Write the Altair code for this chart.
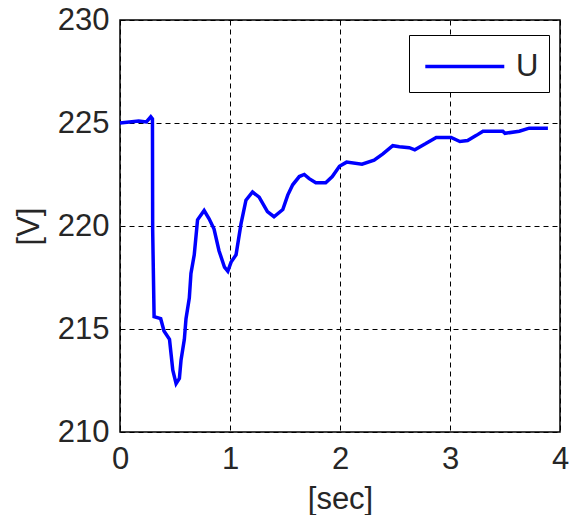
import altair as alt
import pandas as pd

t_sec = [0.0, 0.17, 0.24, 0.28, 0.295, 0.297, 0.31, 0.37, 0.40, 0.45, 0.465, 0.48, 0.51, 0.54, 0.555,
         0.585, 0.60, 0.63, 0.645, 0.675, 0.705, 0.765, 0.81, 0.855, 0.9, 0.95, 0.98, 1.01, 1.055,
         1.1, 1.145, 1.205, 1.265, 1.34, 1.40, 1.48, 1.525, 1.57, 1.63, 1.675, 1.72, 1.78, 1.87,
         1.93, 1.995, 2.06, 2.2, 2.31, 2.39, 2.48, 2.54, 2.63, 2.68, 2.78, 2.875, 3.01, 3.09, 3.16,
         3.24, 3.3, 3.48, 3.5, 3.63, 3.72, 3.89]
u_volt = [225.0, 225.1, 225.05, 225.3, 225.2, 219.8, 215.6, 215.5, 214.9, 214.5, 213.75, 213.0, 212.35,
          212.6, 213.5, 214.5, 215.5, 216.5, 217.7, 218.6, 220.3, 220.75, 220.35, 219.85, 218.8,
          218.0, 217.8, 218.25, 218.6, 220.1, 221.25, 221.65, 221.4, 220.7, 220.45, 220.8, 221.5,
          222.0, 222.4, 222.5, 222.3, 222.1, 222.1, 222.4, 222.9, 223.1, 223.0, 223.2, 223.5,
          223.9, 223.85, 223.8, 223.7, 224.0, 224.3, 224.3, 224.1, 224.15, 224.4, 224.6, 224.6,
          224.5, 224.6, 224.75, 224.75]
series_name = ["U"]
x_ticks = [0, 1, 2, 3, 4]
y_ticks = [210, 215, 220, 225, 230]
assert len(t_sec) == len(u_volt)

df = pd.DataFrame({"t": t_sec, "u": u_volt, "s": series_name * len(t_sec)})

FONT = "Liberation Sans"
FS = 31
TXT = "#262626"

chart = alt.Chart(df).mark_line(strokeWidth=3.5).encode(
    x=alt.X("t:Q", scale=alt.Scale(domain=[0, 4], nice=False),
            axis=alt.Axis(values=x_ticks, title="[sec]", format="d")),
    y=alt.Y("u:Q", scale=alt.Scale(domain=[210, 230], nice=False, zero=False),
            axis=alt.Axis(values=y_ticks, title="[V]", format="d")),
    color=alt.Color("s:N", scale=alt.Scale(domain=series_name, range=["#0000ff"]),
                    legend=alt.Legend(title=None, orient="none", legendX=289, legendY=15,
                                      strokeColor="black", fillColor="white", padding=10,
                                      cornerRadius=0, symbolType="M-0.77,0H3.23", symbolSize=1560,
                                      symbolStrokeWidth=3.5, labelFontSize=FS, labelFont=FONT,
                                      labelColor=TXT, labelOffset=54)),
).properties(
    width=440, height=412,
    background="white",
    autosize=alt.AutoSizeParams(type="none"),
    padding={"left": 120, "top": 20, "right": 10, "bottom": 83},
).configure_view(
    stroke="black", strokeWidth=1.5
).configure_axis(
    grid=True, gridColor="black", gridDash=[5, 4], gridWidth=1, gridOpacity=1,
    domain=False, ticks=False, labelFlush=False, labelOverlap=False,
    labelFont=FONT, labelFontSize=FS, labelColor=TXT,
    titleFont=FONT, titleFontSize=FS, titleFontWeight="normal", titleColor=TXT,
).configure_axisX(
    labelPadding=12, titlePadding=10,
).configure_axisY(
    labelPadding=11, titlePadding=12,
)

chart.save("out.html", embed_options={"renderer": "svg", "actions": False})
